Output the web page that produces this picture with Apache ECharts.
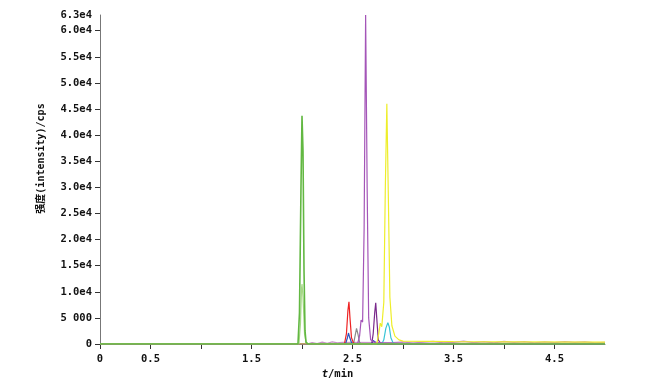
<!DOCTYPE html>
<html>
<head>
<meta charset="utf-8">
<script src="https://cdn.jsdelivr.net/npm/echarts@6/dist/echarts.min.js"></script>
<style>html,body{margin:0;padding:0;background:#fff}#c{width:654px;height:389px}</style>
</head>
<body>
<div id="c"></div>
<script>
// tick values
var xTickValues = [0, 0.5, 1, 1.5, 2, 2.5, 3, 3.5, 4, 4.5];
var xLabelValues = [0, 0.5, 1.5, 2.5, 3.5, 4.5];
var yTickValues = [0, 5000, 10000, 15000, 20000, 25000, 30000, 35000, 40000, 45000, 50000, 55000, 60000];
var yLabelValues = [0, 5000, 10000, 15000, 20000, 25000, 30000, 35000, 40000, 45000, 50000, 55000, 60000, 63000];

// traces [t(min), intensity(cps)]
var greenMain = [[0,0],[1.96,0],[1.975,6000],[1.99,30000],[2.0,43700],[2.01,37000],[2.02,14000],[2.03,2500],[2.04,300],[2.06,0],[5,0]];
var greenLight = [[0,0],[1.97,0],[1.985,4000],[1.995,10500],[2.0,11500],[2.01,9000],[2.025,2000],[2.04,300],[2.06,0],[5,0]];
var red = [[0,0],[2.42,0],[2.44,2000],[2.455,6500],[2.465,8100],[2.475,5000],[2.49,1200],[2.51,200],[2.53,0],[5,0]];
var blue = [[0,0],[2.43,0],[2.45,1200],[2.46,2100],[2.47,1400],[2.49,300],[2.51,0],[2.69,0],[2.705,700],[2.715,1000],[2.73,300],[2.75,0],[5,0]];
var gray = [[0,0],[2.51,0],[2.525,1500],[2.54,3000],[2.555,1800],[2.57,300],[2.59,0],[5,0]];
var lightPurple = [[0,0],[2.55,0],[2.57,1500],[2.585,4600],[2.6,4200],[2.615,22000],[2.63,63000],[2.645,30000],[2.66,5000],[2.68,800],[2.72,300],[2.8,200],[3.0,150],[5,100]];
var darkPurple = [[0,0],[2.69,0],[2.705,2000],[2.72,6000],[2.73,7900],[2.74,5000],[2.755,800],[2.78,100],[2.85,0],[5,0]];
var yellow = [[0,0],[2.74,0],[2.76,2000],[2.775,4000],[2.79,3300],[2.81,8000],[2.825,30000],[2.84,46000],[2.855,28000],[2.87,9000],[2.89,3500],[2.92,1500],[2.96,800],[3.0,550],[3.5,450],[4.0,400],[5,350]];
var cyan = [[0,0],[2.79,0],[2.81,800],[2.83,3000],[2.85,4100],[2.865,3200],[2.88,1200],[2.9,300],[2.93,0],[5,0]];
var noise = [[2.05,0],[2.1,250],[2.15,100],[2.2,350],[2.25,150],[2.3,400],[2.35,200],[2.4,300],[2.9,250],[3.0,400],[3.1,150],[3.2,350],[3.3,500],[3.4,200],[3.5,300],[3.6,550],[3.7,250],[3.8,450],[3.9,200],[4.0,500],[4.1,300],[4.2,450],[4.3,200],[4.4,400],[4.5,250],[4.6,450],[4.7,300],[4.8,400],[4.9,200],[5,300]];

var traces = [
  {name:'noise', data:noise, color:'#c890c8'},
  {name:'blue', data:blue, color:'#2a55c0'},
  {name:'gray', data:gray, color:'#8a8a8a'},
  {name:'red', data:red, color:'#ee2222'},
  {name:'cyan', data:cyan, color:'#38c4d6'},
  {name:'darkPurple', data:darkPurple, color:'#7a2a8c'},
  {name:'lightPurple', data:lightPurple, color:'#a455b8'},
  {name:'yellow', data:yellow, color:'#eeee2a'},
  {name:'greenLight', data:greenLight, color:'#a6d884'},
  {name:'greenMain', data:greenMain, color:'#62b842'}
];

var font = "'DejaVu Sans Mono','Noto Sans CJK SC',monospace";

function yFmt(v){
  if (v === 0) return '0';
  if (v === 5000) return '5 000';
  return (v/10000).toFixed(1) + 'e4';
}

var chart = echarts.init(document.getElementById('c'), null, {renderer:'canvas'});
chart.setOption({
  animation: false,
  grid: {left:100, right:49, top:15, bottom:45, containLabel:false},
  xAxis: {
    type:'value', min:0, max:5, interval:0.5,
    name:'{i|t}/min', nameLocation:'middle', nameGap:24,
    nameTextStyle:{fontFamily:font, fontWeight:'bold', fontSize:10.5, color:'#111', padding:[0,30,0,0],
      rich:{i:{fontStyle:'italic', fontFamily:font, fontWeight:'bold', fontSize:10.5, color:'#111'}}},
    axisLine:{lineStyle:{color:'#777', width:1}},
    axisTick:{length:5, lineStyle:{color:'#333'}, customValues:xTickValues},
    axisLabel:{margin:10, fontFamily:font, fontWeight:'bold', fontSize:10.5, color:'#111', customValues:xLabelValues,
      formatter:function(v){return String(v);}},
    splitLine:{show:false}
  },
  yAxis: {
    type:'value', min:0, max:63000, interval:5000,
    name:'强度(intensity)/cps', nameLocation:'middle', nameGap:54, nameRotate:90,
    nameTextStyle:{fontFamily:font, fontWeight:'bold', fontSize:10, color:'#111', padding:[0,0,0,42]},
    axisLine:{show:true, lineStyle:{color:'#777', width:1}},
    axisTick:{show:true, length:5, lineStyle:{color:'#333'}, customValues:yTickValues},
    axisLabel:{margin:8, fontFamily:font, fontWeight:'bold', fontSize:10.5, color:'#111', customValues:yLabelValues,
      showMaxLabel:true, formatter:yFmt},
    splitLine:{show:false}
  },
  series: traces.map(function(t){
    return {type:'line', name:t.name, data:t.data, symbol:'none', smooth:false,
      lineStyle:{width:t.name==='greenMain'?1.6:1.2, color:t.color}, itemStyle:{color:t.color}};
  })
});
</script>
</body>
</html>
